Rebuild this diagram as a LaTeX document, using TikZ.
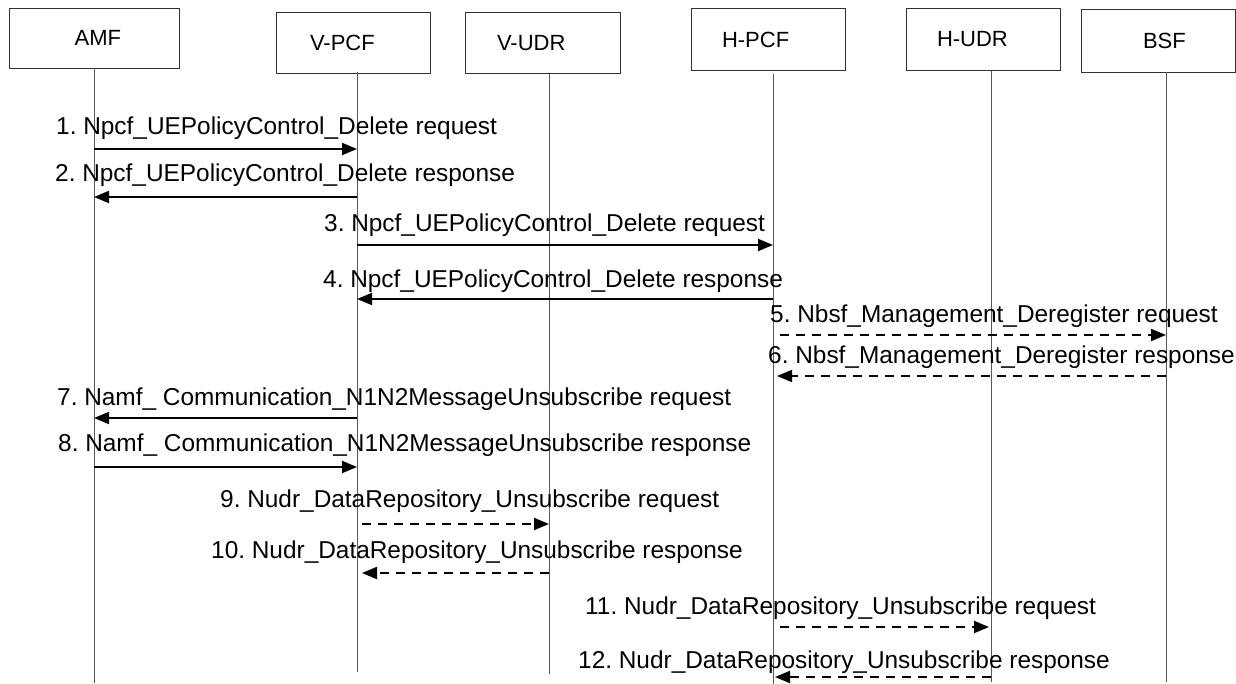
\documentclass[tikz,border=0pt]{standalone}
\usepackage{fontspec}
\setmainfont{Liberation Sans}
\usetikzlibrary{arrows.meta, positioning}

\begin{document}
\begin{tikzpicture}[x=1pt, y=-1pt,
  nf/.style 2 args={draw=black!80, line width=0.9pt, inner ysep=0pt,
              inner xsep=#1, text width=#2, align=left,
              font=\fontsize{22}{26}\selectfont},
  life/.style={draw=black!65, line width=0.9pt},
  msg/.style={anchor=base west, inner sep=0pt,
              font=\fontsize{24.4}{29}\selectfont\frenchspacing},
  call/.style={line width=1.8pt, -{Triangle[length=15pt, width=12pt]}},
  dcall/.style={call, dash pattern=on 9pt off 7pt},
]
\useasboundingbox (0,0) rectangle (1236,684);

\node[nf={65pt}{39.4pt}, minimum height=60pt] (amf) at (94.3,38) {AMF};
\node[nf={34pt}{86pt}, minimum height=61.3pt] (vpcf) at (353,43.3) {V-PCF};
\node[nf={32pt}{91pt}, minimum height=61.3pt] (vudr) at (542.5,43.3) {V-UDR};
\node[nf={31pt}{92pt}, minimum height=62.4pt] (hpcf) at (768,39.5) {H-PCF};
\node[nf={31pt}{92pt}, minimum height=62.4pt] (hudr) at (983,39.5) {H-UDR};
\node[nf={61.5pt}{30.5pt}, minimum height=63pt] (bsf) at (1158.3,40.8) {BSF};

\coordinate (amf-t) at (94,68);    \coordinate (amf-b) at (94,683);
\coordinate (vpcf-t) at (357,72);  \coordinate (vpcf-b) at (357,672);
\coordinate (vudr-t) at (549,74);  \coordinate (vudr-b) at (549,674);
\coordinate (hpcf-t) at (773,74);  \coordinate (hpcf-b) at (773,684);
\coordinate (hudr-t) at (991,71);  \coordinate (hudr-b) at (991,682);
\coordinate (bsf-t) at (1166,72);  \coordinate (bsf-b) at (1166,682);
\draw[life] (amf-t) -- (amf-b);
\draw[life] (vpcf-t) -- (vpcf-b);
\draw[life] (vudr-t) -- (vudr-b);
\draw[life] (hpcf-t) -- (hpcf-b);
\draw[life] (hudr-t) -- (hudr-b);
\draw[life] (bsf-t) -- (bsf-b);

\node[msg] (m1) at (56,135) {1. Npcf\_UEPolicyControl\_Delete request};
\draw[call] (amf-t |- 0,149) -- (vpcf-t |- 0,149);
\node[msg] (m2) at (55,182) {2. Npcf\_UEPolicyControl\_Delete response};
\draw[call] (vpcf-t |- 0,197) -- (amf-t |- 0,197);
\node[msg] (m3) at (324,232) {3. Npcf\_UEPolicyControl\_Delete request};
\draw[call] (vpcf-t |- 0,245) -- (hpcf-t |- 0,245);
\node[msg] (m4) at (323,288) {4. Npcf\_UEPolicyControl\_Delete response};
\draw[call] (hpcf-t |- 0,299) -- (vpcf-t |- 0,299);
\node[msg] (m5) at (770,323) {5. Nbsf\_Management\_Deregister request};
\draw[dcall, shorten <=7pt] (hpcf-t |- 0,335) -- (bsf-t |- 0,335);
\node[msg] (m6) at (768,363) {6. Nbsf\_Management\_Deregister response};
\draw[dcall, shorten >=4pt] (bsf-t |- 0,376) -- (hpcf-t |- 0,376);
\node[msg] (m7) at (57,405) {7. Namf\_ Communication\_N1N2MessageUnsubscribe request};
\draw[call] (vpcf-t |- 0,418) -- (amf-t |- 0,418);
\node[msg] (m8) at (58,451) {8. Namf\_ Communication\_N1N2MessageUnsubscribe response};
\draw[call] (amf-t |- 0,467) -- (vpcf-t |- 0,467);
\node[msg] (m9) at (220,507) {9. Nudr\_DataRepository\_Unsubscribe request};
\draw[dcall, shorten <=5pt] (vpcf-t |- 0,524) -- (vudr-t |- 0,524);
\node[msg] (m10) at (211,558) {10. Nudr\_DataRepository\_Unsubscribe response};
\draw[dcall, shorten >=5pt] (vudr-t |- 0,573) -- (vpcf-t |- 0,573);
\node[msg] (m11) at (585,614) {11. Nudr\_DataRepository\_Unsubscribe request};
\draw[dcall, shorten <=7pt, shorten >=2pt] (hpcf-t |- 0,627) -- (hudr-t |- 0,627);
\node[msg] (m12) at (578,668) {12. Nudr\_DataRepository\_Unsubscribe response};
\draw[dcall, shorten >=2pt] (hudr-t |- 0,677) -- (hpcf-t |- 0,677);
\end{tikzpicture}
\end{document}
